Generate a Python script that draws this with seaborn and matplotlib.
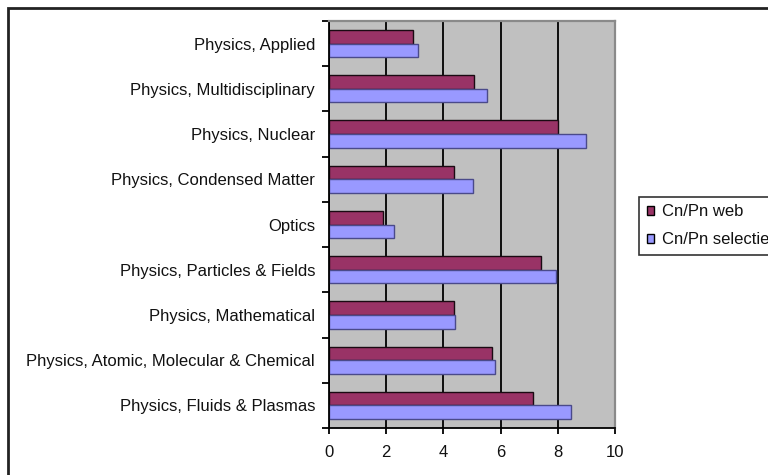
import matplotlib
matplotlib.use("Agg")
import matplotlib.pyplot as plt
from matplotlib.patches import Patch, Rectangle
from matplotlib.ticker import FixedLocator
import seaborn as sns
import pandas as pd

# Subject categories, listed top to bottom
categories = [
    "Physics, Applied",
    "Physics, Multidisciplinary",
    "Physics, Nuclear",
    "Physics, Condensed Matter",
    "Optics",
    "Physics, Particles & Fields",
    "Physics, Mathematical",
    "Physics, Atomic, Molecular & Chemical",
    "Physics, Fluids & Plasmas",
]
series_names = ["Cn/Pn web", "Cn/Pn selectie"]
cnpn_web = [2.95, 5.08, 8.0, 4.36, 1.88, 7.41, 4.36, 5.70, 7.14]
cnpn_selectie = [3.12, 5.54, 8.99, 5.02, 2.27, 7.94, 4.42, 5.80, 8.46]
x_ticks = [0, 2, 4, 6, 8, 10]

colors = {"Cn/Pn web": "#993366", "Cn/Pn selectie": "#9999FF"}
edges = {"Cn/Pn web": "#1a0a12", "Cn/Pn selectie": "#4a4a8a"}

df = pd.DataFrame({
    "category": categories * 2,
    "series": [series_names[0]] * len(categories) + [series_names[1]] * len(categories),
    "value": cnpn_web + cnpn_selectie,
})

sns.set_theme(style="white")
plt.rcParams["font.family"] = ["Liberation Sans", "DejaVu Sans"]

W, H = 768, 475
fig = plt.figure(figsize=(W / 100, H / 100), dpi=100)
ax = fig.add_axes([329 / W, 1 - 428 / H, (615 - 329) / W, (428 - 21) / H])

sns.barplot(
    data=df, y="category", x="value", hue="series",
    order=categories, hue_order=series_names,
    palette=colors, orient="h", width=0.6, ax=ax, legend=False,
    saturation=1,
)
for bar_container, name in zip(ax.containers, series_names):
    for bar in bar_container:
        bar.set_edgecolor(edges[name])
        bar.set_linewidth(1.0)

ax.set_facecolor("#C0C0C0")
ax.set_xlim(0, 10)
ax.set_ylim(len(categories) - 0.5, -0.5)
ax.set_xlabel("")
ax.set_ylabel("")

# vertical gridlines
ax.set_axisbelow(True)
ax.set_xticks(x_ticks)
ax.xaxis.grid(True, color="black", linewidth=1.3)
ax.yaxis.grid(False)

# spines
for side in ("left", "bottom"):
    ax.spines[side].set_color("black")
    ax.spines[side].set_linewidth(1.3)
for side in ("top", "right"):
    ax.spines[side].set_color("#8a8a8a")
    ax.spines[side].set_linewidth(1.6)

# ticks: category labels centered, tick marks between categories
ax.tick_params(axis="y", which="major", length=0, pad=10, labelsize=12, labelcolor="#111111")
ax.yaxis.set_minor_locator(FixedLocator([i - 0.5 for i in range(len(categories) + 1)]))
ax.tick_params(axis="y", which="minor", length=5, width=1.3, color="black", direction="out", left=True)
ax.tick_params(axis="x", which="major", length=4, width=1.3, color="black", direction="out",
               bottom=True, pad=8, labelsize=12, labelcolor="#111111")

# legend
handles = [Patch(facecolor=colors[n], edgecolor="black", linewidth=1.0, label=n) for n in series_names]
leg = fig.legend(
    handles=handles, loc="upper left", bbox_to_anchor=(639 / W, 1 - 197 / H),
    bbox_transform=fig.transFigure, frameon=True, fancybox=False,
    fontsize=12, handlelength=0.45, handleheight=0.45, handletextpad=0.45,
    labelspacing=0.75, borderpad=0.45, borderaxespad=0,
)
leg.get_frame().set_edgecolor("black")
leg.get_frame().set_linewidth(1.2)
leg.get_frame().set_facecolor("white")
for t in leg.get_texts():
    t.set_color("#111111")

# outer chart frame
fig.patches.append(Rectangle((8 / W, -0.2), 1.2, 1.2 - 8 / H, transform=fig.transFigure,
                             fill=False, edgecolor="#222222", linewidth=2.0, clip_on=False))

fig.savefig("out.png", dpi=100, facecolor="white")
